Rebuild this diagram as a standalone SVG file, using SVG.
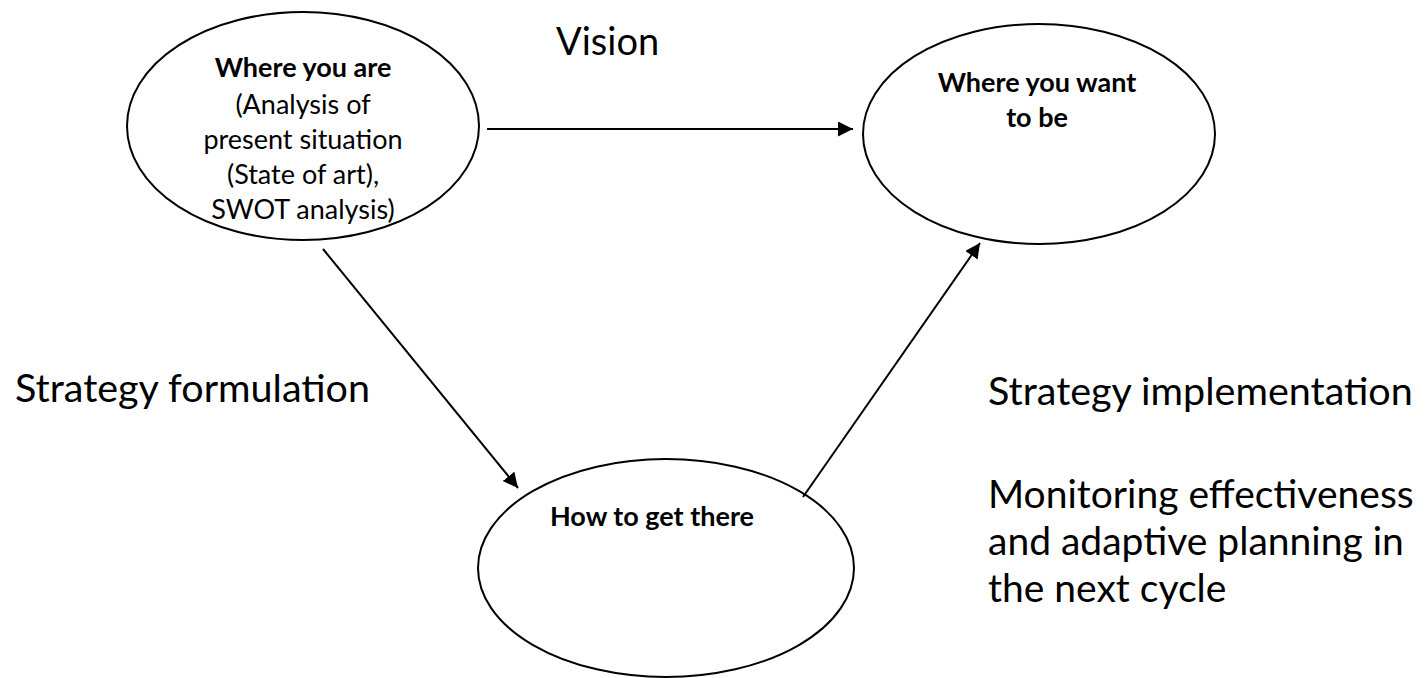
<svg xmlns="http://www.w3.org/2000/svg" width="1425" height="678" viewBox="0 0 1425 678">
<style>
.node ellipse{fill:#fff;stroke:#000;stroke-width:2}
.in{font-family:Lato,"Open Sans","Liberation Sans",sans-serif;font-size:27px;fill:#000;text-anchor:middle}
.b{font-weight:bold}
.lbl{font-family:Lato,"Open Sans","Liberation Sans",sans-serif;font-size:39.5px;fill:#000}
.conn line{stroke:#000;stroke-width:2}
</style>
<defs>
<marker id="ah" markerUnits="userSpaceOnUse" markerWidth="16" markerHeight="16" refX="15" refY="7.5" orient="auto">
<path d="M0,0 L15,7.5 L0,15 z" fill="#000"/>
</marker>
</defs>
<rect width="1425" height="678" fill="#fff"/>
<g id="node-where-you-are" class="node">
<ellipse cx="303" cy="126" rx="176" ry="114"/>
<text class="in b" x="303" y="77">Where you are</text>
<text class="in" x="303" y="114">(Analysis of</text>
<text class="in" x="303" y="149">present situation</text>
<text class="in" x="303" y="184">(State of art),</text>
<text class="in" x="303" y="219">SWOT analysis)</text>
</g>
<g id="node-where-you-want" class="node">
<ellipse cx="1039" cy="134" rx="176" ry="110"/>
<text class="in b" x="1037" y="92">Where you want</text>
<text class="in b" x="1037" y="127">to be</text>
</g>
<g id="node-how" class="node">
<ellipse cx="666" cy="568" rx="188" ry="109"/>
<text class="in b" x="652" y="526">How to get there</text>
</g>
<g id="connectors" class="conn">
<line x1="487" y1="129" x2="853" y2="129" marker-end="url(#ah)"/>
<line x1="323" y1="249" x2="518" y2="488" marker-end="url(#ah)"/>
<line x1="803" y1="497" x2="980" y2="243" marker-end="url(#ah)"/>
</g>
<g id="labels">
<text class="lbl" x="556" y="55" style="font-size:38px">Vision</text>
<text class="lbl" x="15" y="402">Strategy formulation</text>
<text class="lbl" x="988" y="405">Strategy implementation</text>
<text class="lbl" x="988" y="508" style="font-size:39px">Monitoring effectiveness</text>
<text class="lbl" x="988" y="555" style="font-size:39px">and adaptive planning in</text>
<text class="lbl" x="988" y="602" style="font-size:39px">the next cycle</text>
</g>
</svg>
